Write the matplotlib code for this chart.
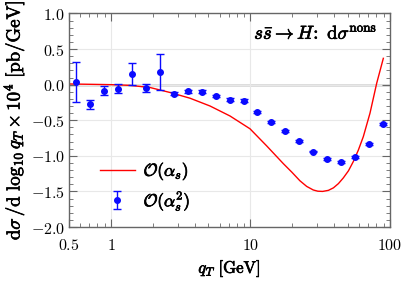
import matplotlib
matplotlib.use("Agg")
import matplotlib.pyplot as plt
import matplotlib.patheffects as pe
from matplotlib.ticker import FixedLocator, FixedFormatter, NullFormatter, LogLocator

plt.rcParams['mathtext.fontset'] = 'cm'
plt.rcParams['font.family'] = ['DejaVu Serif']

# O(alpha_s^2) points
qt_pts = [0.562, 0.708, 0.891, 1.122, 1.413, 1.778, 2.239, 2.818, 3.548, 4.467, 5.623,
          7.079, 8.913, 11.22, 14.13, 17.78, 22.39, 28.18, 35.48, 44.67, 56.23, 70.79, 89.13]
val_pts = [0.04, -0.275, -0.083, -0.055, 0.15, -0.046, 0.175, -0.125, -0.095, -0.098, -0.16,
           -0.209, -0.223, -0.381, -0.521, -0.651, -0.79, -0.94, -1.046, -1.083, -1.018, -0.832, -0.549]
err_pts = [0.28, 0.06, 0.065, 0.065, 0.15, 0.055, 0.25, 0.02, 0.02, 0.018, 0.018,
           0.015, 0.025, 0.012, 0.012, 0.012, 0.015, 0.012, 0.012, 0.012, 0.012, 0.012, 0.012]

# O(alpha_s) curve
qt_line = [0.5, 0.707, 1.0, 1.368, 1.904, 2.65, 3.68, 5.13, 7.13, 9.92, 13.06, 17.2, 19.8,
           22.6, 25.3, 28.2, 30.4, 32.9, 36.2, 39.3, 42.7, 46.3, 50.4, 54.6, 59.3, 64.4,
           71.9, 80.3, 89.6]
val_line = [0.01, 0.005, 0.0, -0.01, -0.04, -0.11, -0.19, -0.30, -0.44, -0.62, -0.86, -1.11, -1.23,
            -1.35, -1.43, -1.48, -1.497, -1.50, -1.485, -1.45, -1.39, -1.31, -1.21, -1.08, -0.92, -0.73,
            -0.40, 0.02, 0.37]

yticks = [1.0, 0.5, 0.0, -0.5, -1.0, -1.5, -2.0]
ytick_labels = [r'$\mathbf{1.0}$', r'$\mathbf{0.5}$', r'$\mathbf{0.0}$', r'$\mathbf{-0.5}$',
                r'$\mathbf{-1.0}$', r'$\mathbf{-1.5}$', r'$\mathbf{-2.0}$']
xticks = [0.5, 1, 10, 100]
xtick_labels = [r'$\mathbf{0.5}$', r'$\mathbf{1}$', r'$\mathbf{10}$', r'$\mathbf{100}$']

bold = [pe.withStroke(linewidth=0.5, foreground='black')]

fig = plt.figure(figsize=(4.07, 2.84), dpi=100)
ax = fig.add_axes([0.1695, 0.2007, 0.7887, 0.7518])

ax.axhline(0.0, color='#555555', lw=1.0, zorder=1)
ax.plot(qt_line, val_line, color='#ff0000', lw=1.0, zorder=2, label=r'$\mathcal{O}(\alpha_s)$')
ax.errorbar(qt_pts, val_pts, yerr=err_pts, fmt='o', color='#0a0aff', ms=4, elinewidth=1.0,
            capsize=3, capthick=1.0, zorder=3, label=r'$\mathcal{O}(\alpha_s^2)$')

ax.set_xscale('log')
ax.set_xlim(0.5, 100)
ax.set_ylim(-2.0, 1.0)

ax.xaxis.set_major_locator(FixedLocator(xticks))
ax.xaxis.set_major_formatter(FixedFormatter(xtick_labels))
ax.xaxis.set_minor_locator(LogLocator(base=10, subs=range(2, 10), numticks=20))
ax.xaxis.set_minor_formatter(NullFormatter())
ax.yaxis.set_major_locator(FixedLocator(yticks))
ax.yaxis.set_major_formatter(FixedFormatter(ytick_labels))
ax.yaxis.set_minor_locator(FixedLocator([v / 10 for v in range(-20, 11)]))

ax.grid(True, which='major', color='#e8e8e8', lw=0.8, zorder=0)
ax.tick_params(which='both', direction='in', top=True, right=True, color='#666666')
ax.tick_params(which='major', length=6, width=0.8, labelsize=11.5)
ax.tick_params(axis='x', which='major', pad=7)
ax.tick_params(axis='y', which='major', pad=3)
ax.tick_params(which='minor', length=3, width=0.6)
for s in ax.spines.values():
    s.set_color('#666666')
    s.set_linewidth(1.0)

xl = ax.set_xlabel(r'$q_T\ \mathrm{[GeV]}$', fontsize=12, labelpad=3)
yl = ax.set_ylabel(r'$\mathrm{d}\sigma\,/\mathrm{d}\ \log_{10} q_T \times 10^4\ \mathrm{[pb/GeV]}$',
                   fontsize=13.5, labelpad=3)
xl.set_path_effects(bold)
yl.set_path_effects(bold)

t = ax.text(0.96, 0.905, r'$s\bar{s} \to H\!:\ \mathrm{d}\sigma^{\mathrm{nons}}$', transform=ax.transAxes,
            ha='right', va='center', fontsize=13.5)
t.set_path_effects(bold)

leg = ax.legend(loc='lower left', bbox_to_anchor=(0.075, 0.03), frameon=False, fontsize=12.5,
                handlelength=2.0, handletextpad=0.5, labelspacing=0.35, borderaxespad=0)
for txt in leg.get_texts():
    txt.set_path_effects(bold)

fig.savefig('out.png', dpi=100)
